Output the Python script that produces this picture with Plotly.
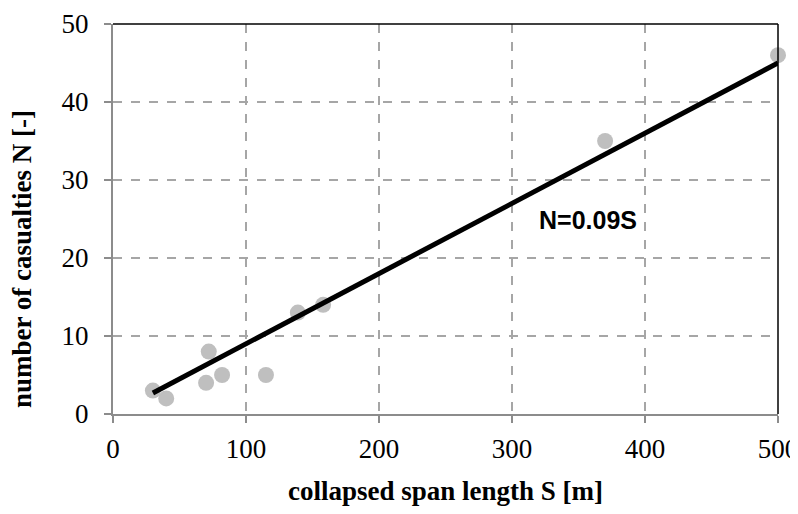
import plotly.graph_objects as go

span_length = [30, 40, 70, 72, 82, 115, 139, 158, 370, 500]
casualties = [3, 2, 4, 8, 5, 5, 13, 14, 35, 46]
fit_slope = 0.09
fit_x = [30, 500]
fit_y = [fit_slope * v for v in fit_x]

x_ticks = [0, 100, 200, 300, 400, 500]
y_ticks = [0, 10, 20, 30, 40, 50]

fig = go.Figure()
fig.add_trace(go.Scatter(x=span_length, y=casualties, mode="markers",
                         marker=dict(size=16, color="#bfbfbf"), showlegend=False, cliponaxis=False))
fig.add_trace(go.Scatter(x=fit_x, y=fit_y, mode="lines",
                         line=dict(color="black", width=5), showlegend=False, cliponaxis=False))

fig.add_annotation(x=357, y=24.9, text="<b>N=0.09S</b>", showarrow=False,
                   font=dict(family="Liberation Sans, Arial", size=25, color="black"))

title_font = dict(family="Liberation Serif, Times New Roman", size=27, color="black")
fig.add_annotation(xref="paper", yref="paper", x=0.5, y=0, yshift=-77, showarrow=False,
                   text="<b>collapsed span length S [m]</b>", font=title_font,
                   xanchor="center", yanchor="middle")
fig.add_annotation(xref="paper", yref="paper", x=0, y=0.5, xshift=-91, yshift=-40, showarrow=False,
                   text="<b>number of casualties N [-]</b>", font=title_font, textangle=-90,
                   xanchor="center", yanchor="middle")

# top & right frame
fig.add_shape(type="line", xref="paper", yref="paper", x0=0, x1=1, y0=1, y1=1,
              line=dict(color="black", width=1.5))
fig.add_shape(type="line", xref="paper", yref="paper", x0=1, x1=1, y0=0, y1=1,
              line=dict(color="black", width=1.5))

axis_font = dict(family="Liberation Serif, Times New Roman", size=27, color="black")

fig.update_xaxes(range=[0, 500], tickvals=x_ticks, ticktext=[str(v) for v in x_ticks],
                 showgrid=True, gridcolor="#a6a6a6", griddash="dash", gridwidth=1.5,
                 showline=True, linecolor="#8c8c8c", linewidth=2,
                 ticks="outside", ticklen=7, tickcolor="#8c8c8c", tickwidth=2,
                 tickfont=axis_font, zeroline=False, ticklabelstandoff=3)
fig.update_yaxes(range=[0, 50], tickvals=y_ticks, ticktext=[str(v) for v in y_ticks],
                 showgrid=True, gridcolor="#a6a6a6", griddash="dash", gridwidth=1.5,
                 showline=True, linecolor="#8c8c8c", linewidth=2,
                 ticks="outside", ticklen=7, tickcolor="#8c8c8c", tickwidth=2,
                 tickfont=axis_font, zeroline=False, ticklabelstandoff=10)

fig.update_layout(width=798, height=514, plot_bgcolor="white", paper_bgcolor="white",
                  margin=dict(l=105, r=28, t=16, b=108, autoexpand=False))

fig.write_html("out.html")
